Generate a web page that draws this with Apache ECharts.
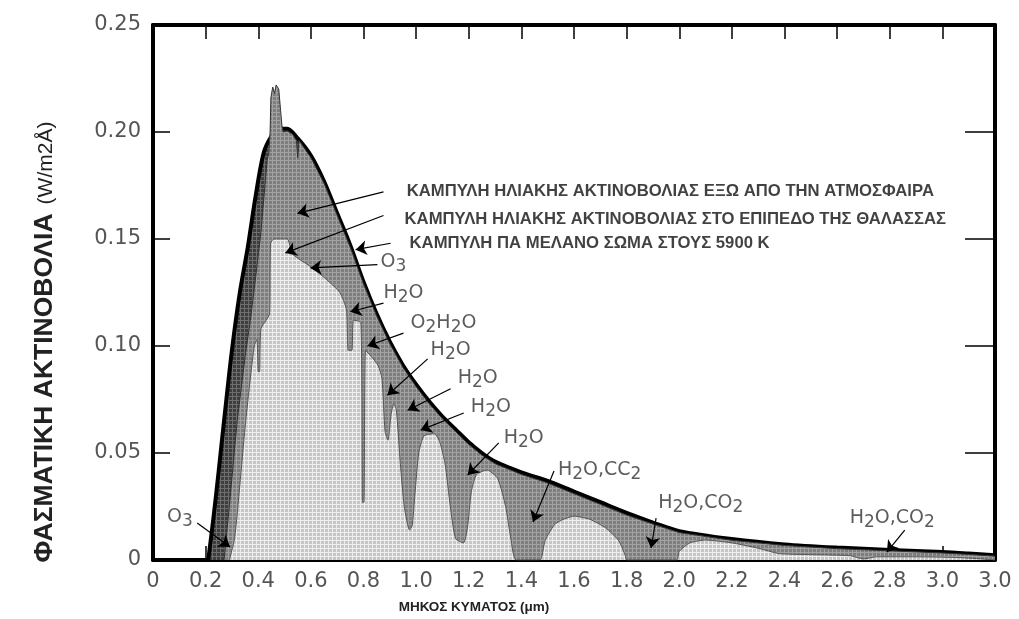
<!DOCTYPE html>
<html>
<head>
<meta charset="utf-8">
<title>Solar spectrum</title>
<script src="https://cdn.jsdelivr.net/npm/echarts@6/dist/echarts.min.js"></script>
<style>
    body { margin: 0; background: #fff; }
    #chart { width: 1019px; height: 619px; }
</style>
</head>
<body>
<div id="chart"></div>
<script>
// tick labels (the last one really reads 3.0 in the original)
const xTickLabels = ['0','0.2','0.4','0.6','0.8','1.0','1.2','1.4','1.6','1.8','2.0','2.2','2.4','2.6','2.8','3.0','3.0'];
const yTickLabels = ['0','0.05','0.10','0.15','0.20','0.25'];

// black body 5900 K
const bbWave  = [0.21,0.23,0.25,0.27,0.30,0.33,0.36,0.39,0.42,0.45,0.48,0.51,0.55,0.60,0.65,0.70,0.75,0.80,0.85,0.90,0.95,1.00,1.05,1.10,1.15,1.20,1.25,1.30,1.40,1.50,1.60,1.70,1.80,1.90,2.00,2.20,2.40,2.60,2.80,3.00,3.10,3.20];
const bbValue = [0,0.02,0.042,0.065,0.098,0.125,0.146,0.17,0.19,0.198,0.2015,0.2015,0.197,0.189,0.177,0.162,0.147,0.13,0.115,0.102,0.091,0.082,0.074,0.067,0.061,0.055,0.05,0.046,0.041,0.037,0.032,0.027,0.022,0.0175,0.0135,0.0098,0.0073,0.0058,0.0047,0.0037,0.003,0.0022];

// outside the atmosphere
const outWave  = [0.27,0.29,0.32,0.35,0.37,0.39,0.41,0.434,0.44,0.445,0.448,0.455,0.462,0.468,0.478,0.485,0.49,0.495,0.51,0.53,0.545,0.55,0.555,0.60,0.65,0.70,0.75,0.80,0.85,0.90,0.95,1.00,1.05,1.10,1.15,1.20,1.25,1.30,1.40,1.50,1.60,1.70,1.80,1.90,2.00,2.20,2.40,2.60,2.80,3.00,3.10,3.20];
const outValue = [0,0.025,0.065,0.095,0.112,0.132,0.153,0.187,0.19,0.2,0.216,0.221,0.218,0.222,0.22,0.21,0.203,0.2,0.2005,0.199,0.196,0.188,0.196,0.188,0.176,0.161,0.146,0.129,0.114,0.101,0.090,0.081,0.073,0.066,0.060,0.054,0.049,0.045,0.040,0.036,0.031,0.026,0.021,0.0168,0.0128,0.0092,0.0068,0.0053,0.0043,0.0033,0.0026,0.0018];

// at sea level
const seaWave  = [0.29,0.31,0.33,0.35,0.37,0.385,0.395,0.40,0.405,0.41,0.43,0.443,0.447,0.46,0.51,0.53,0.60,0.66,0.71,0.735,0.742,0.756,0.762,0.79,0.796,0.802,0.808,0.83,0.855,0.87,0.882,0.893,0.905,0.915,0.925,0.94,0.955,0.975,0.985,0.995,1.01,1.03,1.07,1.09,1.11,1.13,1.15,1.18,1.195,1.21,1.23,1.27,1.31,1.34,1.36,1.38,1.47,1.49,1.53,1.60,1.66,1.72,1.77,1.795,1.80,1.99,2.00,2.04,2.10,2.20,2.30,2.38,2.50,2.65,2.70,2.75,2.90,3.05,3.15,3.20];
const seaValue = [0,0.01,0.035,0.062,0.085,0.100,0.103,0.088,0.088,0.108,0.112,0.115,0.148,0.150,0.150,0.143,0.137,0.131,0.125,0.117,0.098,0.098,0.112,0.111,0.027,0.027,0.098,0.095,0.091,0.085,0.06,0.056,0.068,0.073,0.07,0.045,0.025,0.014,0.016,0.03,0.05,0.058,0.059,0.055,0.045,0.025,0.01,0.008,0.015,0.032,0.04,0.042,0.038,0.025,0.01,0,0,0.009,0.017,0.0205,0.019,0.015,0.009,0.002,0,0,0.004,0.008,0.0093,0.008,0.0055,0.003,0.0025,0.002,0.0005,0.0015,0.0015,0.0012,0.0005,0];

// curve captions and arrows
const noteText = ['ΚΑΜΠΥΛΗ ΗΛΙΑΚΗΣ ΑΚΤΙΝΟΒΟΛΙΑΣ ΕΞΩ ΑΠΟ ΤΗΝ ΑΤΜΟΣΦΑΙΡΑ', 'ΚΑΜΠΥΛΗ ΗΛΙΑΚΗΣ ΑΚΤΙΝΟΒΟΛΙΑΣ ΣΤΟ ΕΠΙΠΕΔΟ ΤΗΣ ΘΑΛΑΣΣΑΣ', 'ΚΑΜΠΥΛΗ ΠΑ ΜΕΛΑΝΟ ΣΩΜΑ ΣΤΟΥΣ 5900 Κ'];
const notePos = [[0.964,0.1724],[0.956,0.1593],[0.975,0.148]];

const gasText = ['O3','H2O','O2H2O','H2O','H2O','H2O','H2O','H2O,CC2','H2O,CO2','H2O,CO2','O3'];
const gasPos = [[0.865,0.139],[0.876,0.1248],[0.979,0.1107],[1.055,0.098],[1.158,0.085],[1.208,0.0715],[1.333,0.057],[1.539,0.042],[1.92,0.0266],[2.648,0.0196],[0.053,0.020]];

const arrowFrom = [[0.876,0.172],[0.876,0.161],[0.903,0.148],[0.853,0.138],[0.876,0.120],[0.952,0.106],[1.044,0.094],[1.131,0.080],[1.181,0.0687],[1.314,0.0547],[1.524,0.0416],[1.912,0.0196],[2.857,0.014],[0.168,0.0173]];
const arrowTo   = [[0.549,0.162],[0.503,0.1435],[0.770,0.145],[0.598,0.1365],[0.750,0.116],[0.815,0.100],[0.891,0.077],[0.968,0.070],[1.017,0.0607],[1.196,0.0397],[1.444,0.0178],[1.893,0.0056],[2.789,0.0037],[0.293,0.0061]];

function zip(xs, ys) { return xs.map((x, i) => [x, ys[i]]); }

// stipple fill like the scanned figure
function stipple(base, line) {
    const c = document.createElement('canvas');
    c.width = 4; c.height = 4;
    const g = c.getContext('2d');
    g.fillStyle = base; g.fillRect(0, 0, 4, 4);
    g.fillStyle = line; g.fillRect(0, 0, 4, 1); g.fillRect(0, 0, 1, 4);
    return { image: c, repeat: 'repeat' };
}

const chart = echarts.init(document.getElementById('chart'));

const tickFont = { color: '#555', fontSize: 21, fontFamily: 'DejaVu Sans' };
const frameLine = { show: true, onZero: false, lineStyle: { color: '#000', width: 4 } };

chart.setOption({
    animation: false,
    grid: { left: 153, right: 24, top: 25, bottom: 59 },
    xAxis: [{
        type: 'value', min: 0, max: 3.2, interval: 0.2, position: 'bottom',
        axisLine: frameLine,
        axisTick: { inside: true, length: 14, lineStyle: { color: '#000', width: 1.5 } },
        axisLabel: Object.assign({ margin: 11, formatter: v => xTickLabels[Math.round(v / 0.2)] }, tickFont),
        splitLine: { show: false }
    }, {
        type: 'value', min: 0, max: 3.2, interval: 0.2, position: 'top',
        axisLine: frameLine,
        axisTick: { inside: true, length: 14, lineStyle: { color: '#000', width: 1.5 } },
        axisLabel: { show: false }, splitLine: { show: false }
    }],
    yAxis: [{
        type: 'value', min: 0, max: 0.25, interval: 0.05, position: 'left',
        axisLine: frameLine,
        axisTick: { show: true, inside: true, length: 17, lineStyle: { color: '#000', width: 1.5 } },
        axisLabel: Object.assign({ margin: 12, formatter: v => yTickLabels[Math.round(v / 0.05)] }, tickFont),
        splitLine: { show: false }
    }, {
        type: 'value', min: 0, max: 0.25, interval: 0.05, position: 'right',
        axisLine: frameLine,
        axisTick: { show: true, inside: true, length: 30, lineStyle: { color: '#000', width: 1.5 } },
        axisLabel: { show: false }, splitLine: { show: false }
    }],
    graphic: [
        { type: 'text', x: 45, y: 388, rotation: Math.PI / 2,
          style: { text: 'ΦΑΣΜΑΤΙΚΗ ΑΚΤΙΝΟΒΟΛΙΑ', fontSize: 26.5, fontWeight: 'bold', fontFamily: 'Liberation Sans', fill: '#222', align: 'center', verticalAlign: 'middle' } },
        { type: 'text', x: 46, y: 163, rotation: Math.PI / 2,
          style: { text: '(W/m2Å)', fontSize: 21, fontFamily: 'Liberation Sans', fill: '#222', align: 'center', verticalAlign: 'middle' } },
        { type: 'text', x: 474, y: 607,
          style: { text: 'ΜΗΚΟΣ ΚΥΜΑΤΟΣ (μm)', fontSize: 13.5, fontWeight: 'bold', fontFamily: 'Liberation Sans', fill: '#222', align: 'center', verticalAlign: 'middle' } }
    ],
    series: [{
        name: 'black body', type: 'line', data: zip(bbWave, bbValue), symbol: 'none', smooth: 0.3,
        lineStyle: { color: '#000', width: 4 },
        areaStyle: { color: stipple('#3e3e3e', '#6e6e6e'), opacity: 1 }, z: 2
    }, {
        name: 'outside', type: 'line', data: zip(outWave, outValue), symbol: 'none',
        lineStyle: { color: '#333', width: 1 },
        areaStyle: { color: stipple('#7e7e7e', '#a2a2a2'), opacity: 1 }, z: 3
    }, {
        name: 'sea level', type: 'line', data: zip(seaWave, seaValue), symbol: 'none', smooth: 0.2,
        lineStyle: { color: '#555', width: 1 },
        areaStyle: { color: stipple('#c6c6c6', '#eeeeee'), opacity: 1 }, z: 4
    }, {
        name: 'notes', type: 'scatter', symbolSize: 0, z: 10,
        data: notePos.map((p, i) => ({ value: p, name: noteText[i] })),
        label: { show: true, position: 'right', distance: 0, formatter: p => p.name,
                 fontSize: 16.7, fontWeight: 'bold', fontFamily: 'Liberation Sans', color: '#111' },
        markLine: {
            silent: true, symbol: ['none', 'arrow'], symbolSize: 11,
            lineStyle: { color: '#000', width: 1.2, type: 'solid' }, label: { show: false },
            data: arrowFrom.map((p, i) => [{ coord: p }, { coord: arrowTo[i] }])
        }
    }, {
        name: 'gases', type: 'scatter', symbolSize: 0, z: 10,
        data: gasPos.map((p, i) => ({ value: p, name: gasText[i] })),
        label: { show: true, position: 'right', distance: 0,
                 formatter: p => p.name.replace(/(\d)/g, '{s|$1}'),
                 fontSize: 19, fontFamily: 'DejaVu Sans', color: '#333',
                 rich: { s: { fontSize: 17, fontFamily: 'DejaVu Sans', color: '#333', padding: [9, 0, 0, 0] } } }
    }]
});
</script>
</body>
</html>
